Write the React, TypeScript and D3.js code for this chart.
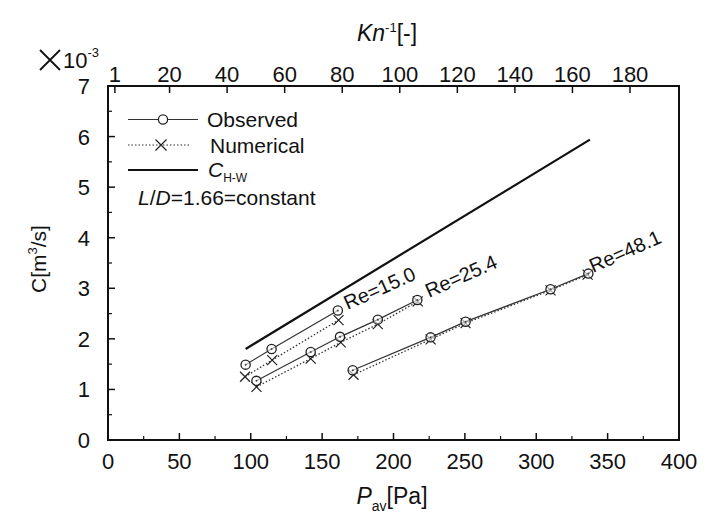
import React from "react";
import * as d3 from "d3";

const xTicks = [0, 50, 100, 150, 200, 250, 300, 350, 400];
const yTicks = [0, 1, 2, 3, 4, 5, 6, 7];
const knTicks = [1, 20, 40, 60, 80, 100, 120, 140, 160, 180];

const hwP = [96.4, 337.6];
const hwC = [1.8, 5.94];

const re15ObsP = [96.4, 114.6, 161];
const re15ObsC = [1.49, 1.8, 2.56];
const re15NumP = [96, 115, 161.5];
const re15NumC = [1.25, 1.58, 2.37];

const re25ObsP = [104, 142, 162.5, 189, 216.7];
const re25ObsC = [1.17, 1.74, 2.04, 2.38, 2.77];
const re25NumP = [104, 142, 163, 189, 217];
const re25NumC = [1.05, 1.61, 1.93, 2.29, 2.74];

const re48ObsP = [171.4, 226, 250.5, 310, 336.5];
const re48ObsC = [1.38, 2.03, 2.34, 2.98, 3.29];
const re48NumP = [172, 226, 250.5, 310, 336];
const re48NumC = [1.29, 1.99, 2.31, 2.96, 3.27];

const reLabels = ["Re=15.0", "Re=25.4", "Re=48.1"];
const reLabelP = [167.8, 224.9, 339.8];
const reLabelC = [2.57, 2.81, 3.3];

const FONT = "'Liberation Sans', Arial, Helvetica, sans-serif";

export default function App() {
  const W = 707, H = 519;
  const left = 108, right = 679, top = 86, bottom = 440;
  const x = d3.scaleLinear().domain([0, 400]).range([left, right]);
  const y = d3.scaleLinear().domain([0, 7]).range([bottom, top]);
  const kn = d3.scaleLinear().domain([0, 180]).range([112, 630]);

  const line = (ps: number[], cs: number[]) =>
    d3.line<number>().x((_, i) => x(ps[i])).y((_, i) => y(cs[i]))(ps) || "";

  const obs = [
    [re15ObsP, re15ObsC],
    [re25ObsP, re25ObsC],
    [re48ObsP, re48ObsC],
  ];
  const num = [
    [re15NumP, re15NumC],
    [re25NumP, re25NumC],
    [re48NumP, re48NumC],
  ];

  const cross = (cx: number, cy: number, s: number, key: string) => (
    <path
      key={key}
      d={`M${cx - s},${cy - s}L${cx + s},${cy + s}M${cx - s},${cy + s}L${cx + s},${cy - s}`}
      stroke="#222"
      strokeWidth={1.2}
      fill="none"
    />
  );

  const xMinor = d3.range(25, 400, 50);
  const yMinor = d3.range(0.5, 7, 1);

  return (
    <svg width={W} height={H} style={{ position: "absolute", left: 0, top: 0, background: "#fff" }} fontFamily={FONT}>
      <rect x={0} y={0} width={W} height={H} fill="#fff" />
      {/* frame */}
      <rect x={left} y={top} width={right - left} height={bottom - top} fill="none" stroke="#111" strokeWidth={2} />
      {/* bottom ticks */}
      {xTicks.map((t) => (
        <g key={"xt" + t}>
          <line x1={x(t)} x2={x(t)} y1={bottom} y2={bottom - 7} stroke="#111" strokeWidth={1.5} />
          <text x={x(t)} y={469} fontSize={22} textAnchor="middle" fill="#111">{t}</text>
        </g>
      ))}
      {xMinor.map((t) => (
        <line key={"xm" + t} x1={x(t)} x2={x(t)} y1={bottom} y2={bottom - 4} stroke="#111" strokeWidth={1.2} />
      ))}
      {/* left ticks */}
      {yTicks.map((t) => (
        <g key={"yt" + t}>
          <line x1={left} x2={left + 7} y1={y(t)} y2={y(t)} stroke="#111" strokeWidth={1.5} />
          <text x={90} y={y(t) + 8} fontSize={22} textAnchor="end" fill="#111">{t}</text>
        </g>
      ))}
      {yMinor.map((t) => (
        <line key={"ym" + t} x1={left} x2={left + 4} y1={y(t)} y2={y(t)} stroke="#111" strokeWidth={1.2} />
      ))}
      {/* top ticks */}
      {knTicks.map((t) => (
        <g key={"kt" + t}>
          <line x1={kn(t)} x2={kn(t)} y1={top} y2={top + 7} stroke="#111" strokeWidth={1.5} />
          <text x={kn(t)} y={82} fontSize={22} textAnchor="middle" fill="#111">{t}</text>
        </g>
      ))}
      {/* axis titles */}
      <text x={387} y={41} fontSize={23} textAnchor="middle" fill="#111">
        <tspan fontStyle="italic">Kn</tspan>
        <tspan dy={-9} fontSize={13}>-1</tspan>
        <tspan dy={9}>[-]</tspan>
      </text>
      <path d="M40,50L60,70M40,70L60,50" stroke="#111" strokeWidth={1.8} fill="none" />
      <text x={63} y={68} fontSize={22} fill="#111">
        <tspan>10</tspan>
        <tspan dy={-11} fontSize={13}>-3</tspan>
      </text>
      <text transform="translate(46,259) rotate(-90)" fontSize={21} textAnchor="middle" fill="#111">
        <tspan>C[m</tspan>
        <tspan dy={-9} fontSize={13}>3</tspan>
        <tspan dy={9}>/s]</tspan>
      </text>
      <text x={392} y={504} fontSize={23} textAnchor="middle" fill="#111">
        <tspan fontStyle="italic">P</tspan>
        <tspan dy={7} fontSize={14}>av</tspan>
        <tspan dy={-7}>[Pa]</tspan>
      </text>

      {/* C_H-W */}
      <path d={line(hwP, hwC)} stroke="#111" strokeWidth={2.2} fill="none" />

      {/* numerical dotted lines */}
      {num.map(([ps, cs], i) => (
        <path key={"nl" + i} d={line(ps, cs)} stroke="#333" strokeWidth={1.3} strokeDasharray="1.5,2" fill="none" />
      ))}
      {/* observed lines */}
      {obs.map(([ps, cs], i) => (
        <path key={"ol" + i} d={line(ps, cs)} stroke="#333" strokeWidth={1.2} fill="none" />
      ))}
      {num.map(([ps, cs], i) => ps.map((p, j) => cross(x(p), y(cs[j]), 5, `nc${i}-${j}`)))}
      {obs.map(([ps, cs], i) =>
        ps.map((p, j) => (
          <g key={`oc${i}-${j}`}>
            <circle cx={x(p)} cy={y(cs[j])} r={4.6} fill="#fff" fillOpacity={0.6} stroke="#222" strokeWidth={1.3} />
            <circle cx={x(p)} cy={y(cs[j])} r={1} fill="#444" />
          </g>
        ))
      )}

      {/* Re labels */}
      {reLabels.map((t, i) => (
        <text
          key={t}
          transform={`translate(${x(reLabelP[i])},${y(reLabelC[i])}) rotate(-24)`}
          fontSize={20}
          fill="#111"
        >
          {t}
        </text>
      ))}

      {/* legend */}
      <line x1={128} x2={198} y1={119.5} y2={119.5} stroke="#333" strokeWidth={1.2} />
      <circle cx={163} cy={119.5} r={4.6} fill="#fff" stroke="#222" strokeWidth={1.3} />
      <text x={207} y={127} fontSize={21} fill="#111">Observed</text>
      <line x1={128} x2={190} y1={145} y2={145} stroke="#333" strokeWidth={1.2} strokeDasharray="1.5,2" />
      {cross(161, 145, 5.5, "legx")}
      <text x={210} y={153} fontSize={21} fill="#111">Numerical</text>
      <line x1={128} x2={198} y1={170} y2={170} stroke="#111" strokeWidth={2.2} />
      <text x={208} y={177} fontSize={21} fill="#111">
        <tspan fontStyle="italic">C</tspan>
        <tspan dy={5} fontSize={12}>H-W</tspan>
      </text>
      <text x={138} y={205} fontSize={21} fill="#111">
        <tspan fontStyle="italic">L</tspan>
        <tspan>/</tspan>
        <tspan fontStyle="italic">D</tspan>
        <tspan>=1.66=constant</tspan>
      </text>
    </svg>
  );
}
